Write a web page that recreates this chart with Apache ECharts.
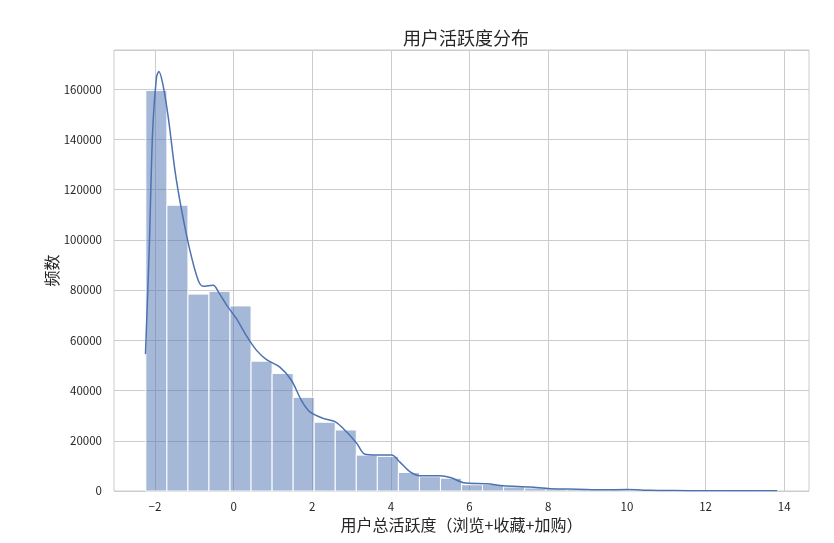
<!DOCTYPE html>
<html>
<head>
<meta charset="utf-8">
<script src="https://cdn.jsdelivr.net/npm/echarts@6/dist/echarts.min.js"></script>
<style>
  html, body { margin: 0; padding: 0; background: #fff; }
  #main { width: 834px; height: 543px; }
</style>
</head>
<body>
<div id="main"></div>
<script>
// 直方图分箱边界（30 个箱）
var binEdges = [-2.23, -1.695, -1.16, -0.625, -0.09, 0.445, 0.98, 1.515, 2.05, 2.585,
  3.12, 3.655, 4.19, 4.725, 5.26, 5.795, 6.33, 6.865, 7.4, 7.935,
  8.47, 9.005, 9.54, 10.075, 10.61, 11.145, 11.68, 12.215, 12.75, 13.285, 13.82];
// 每个箱的频数
var binCounts = [159500, 113800, 78400, 79500, 73700, 51700, 46800, 37300, 27400, 24300,
  14300, 13800, 7400, 5700, 5100, 2500, 2600, 1600, 1200, 800,
  600, 450, 500, 350, 150, 100, 80, 70, 90, 40];
// KDE 曲线
var kdeX = [-2.24, -2.145, -2.06, -1.96, -1.9, -1.8, -1.66, -1.49, -1.32, -1.11, -0.9, -0.77,
  -0.52, -0.36, -0.145, 0.07, 0.32, 0.58, 0.83, 1.17, 1.47, 1.72, 1.94, 2.28, 2.58, 2.87,
  3.13, 3.34, 3.64, 4.02, 4.23, 4.49, 4.74, 5.25, 5.51, 5.85, 6.44, 6.86, 7.54, 8.05,
  8.73, 9.4, 10.0, 10.6, 11.2, 12.0, 12.8, 13.3, 13.82];
var kdeY = [54500, 95800, 142200, 164700, 167000, 162100, 148800, 127600, 111700, 95800, 83900, 81500,
  81900, 78600, 73300, 68700, 62000, 56100, 52400, 49400, 44100, 36200, 31500, 28900, 27600, 23600,
  19000, 14600, 14300, 14300, 11500, 7600, 6100, 6100, 5400, 3300, 2900, 2100, 1600, 900,
  700, 450, 600, 250, 150, 100, 80, 120, 50];
var xTicks = [-2, 0, 2, 4, 6, 8, 10, 12, 14];

var chart = echarts.init(document.getElementById('main'));

var barData = binCounts.map(function (c, i) {
  return [binEdges[i], binEdges[i + 1], c];
});
var kdeData = kdeX.map(function (x, i) { return [x, kdeY[i]]; });

var font = '"Noto Sans CJK SC", sans-serif';

var option = {
  backgroundColor: '#ffffff',
  animation: false,
  title: {
    text: '用户活跃度分布',
    left: 461,
    textAlign: 'center',
    top: 24,
    textStyle: { fontFamily: font, fontSize: 18, fontWeight: 'normal', color: '#262626' }
  },
  grid: {
    left: 114,
    right: 25,
    top: 50,
    bottom: 52,
    show: true,
    borderColor: '#cccccc',
    borderWidth: 1,
    backgroundColor: 'transparent'
  },
  xAxis: {
    type: 'value',
    min: -3.04,
    max: 14.63,
    name: '用户总活跃度（浏览+收藏+加购）',
    nameLocation: 'middle',
    nameGap: 24,
    nameTextStyle: { fontFamily: font, fontSize: 16, color: '#262626' },
    axisLine: { show: false },
    axisTick: { show: false, customValues: xTicks },
    axisLabel: {
      customValues: xTicks,
      margin: 10,
      fontFamily: font,
      fontSize: 11.5,
      color: '#262626',
      formatter: function (v) { return String(v).replace('-', '\u2212'); }
    },
    splitLine: { show: true, lineStyle: { color: '#cccccc', width: 1 } }
  },
  yAxis: {
    type: 'value',
    min: 0,
    max: 175600,
    interval: 20000,
    name: '频数',
    nameLocation: 'middle',
    nameGap: 54,
    nameMoveOverlap: false,
    nameRotate: 90,
    nameTextStyle: { fontFamily: font, fontSize: 16, color: '#262626' },
    axisLine: { show: false },
    axisTick: { show: false },
    axisLabel: {
      margin: 12,
      fontFamily: font,
      fontSize: 11.5,
      color: '#262626',
      showMaxLabel: false,
      formatter: function (v) { return String(v); }
    },
    splitLine: { show: true, lineStyle: { color: '#cccccc', width: 1 } }
  },
  series: [
    {
      type: 'custom',
      name: '频数',
      renderItem: function (params, api) {
        var p0 = api.coord([api.value(0), 0]);
        var p1 = api.coord([api.value(1), api.value(2)]);
        return {
          type: 'rect',
          shape: { x: p0[0], y: p1[1], width: p1[0] - p0[0], height: p0[1] - p1[1] },
          style: { fill: 'rgba(76,114,176,0.5)', stroke: '#ffffff', lineWidth: 1 }
        };
      },
      encode: { x: [0, 1], y: 2 },
      data: barData
    },
    {
      type: 'line',
      name: 'KDE',
      data: kdeData,
      smooth: 0.3,
      showSymbol: false,
      lineStyle: { color: '#4c72b0', width: 1.5 },
      z: 3
    }
  ]
};

chart.setOption(option);
</script>
</body>
</html>
